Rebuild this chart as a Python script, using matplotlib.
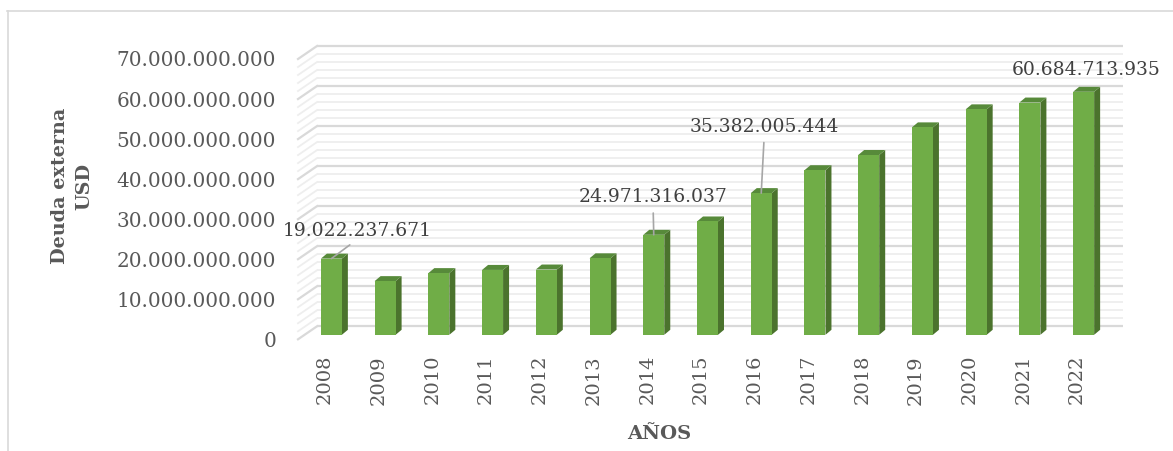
import matplotlib
matplotlib.use("Agg")
import matplotlib.pyplot as plt
from matplotlib.patches import Polygon
from matplotlib.lines import Line2D

# ---------------- data ----------------
years = ["2008", "2009", "2010", "2011", "2012", "2013", "2014", "2015",
         "2016", "2017", "2018", "2019", "2020", "2021", "2022"]
debt = [19022237671, 13.4e9, 15.4e9, 16.2e9, 16.3e9, 19.1e9, 24971316037,
        28.3e9, 35382005444, 41.1e9, 44.9e9, 51.8e9, 56.3e9, 58.0e9,
        60684713935]
y_ticks = [0, 10e9, 20e9, 30e9, 40e9, 50e9, 60e9, 70e9]
y_tick_labels = ["0", "10.000.000.000", "20.000.000.000", "30.000.000.000",
                 "40.000.000.000", "50.000.000.000", "60.000.000.000",
                 "70.000.000.000"]
labelled = {0: "19.022.237.671", 6: "24.971.316.037",
            8: "35.382.005.444", 14: "60.684.713.935"}
y_title = "Deuda externa\nUSD"
x_title = "AÑOS"

# ---------------- figure ----------------
W, H = 1173, 451
fig = plt.figure(figsize=(W / 100, H / 100), dpi=100)
fig.patch.set_facecolor("white")

FONT = "DejaVu Serif"
TXT = "#595959"

# axes = front plane of the bars
ax_l, ax_r = 304.5, 1110.5
ax_b, ax_t = 334.8, 334.8 - 280.3
ax = fig.add_axes([ax_l / W, 1 - ax_b / H, (ax_r - ax_l) / W, (ax_b - ax_t) / H])
ax.set_xlim(-0.5, 14.5)
ax.set_ylim(0, 70e9)
ax.axis("off")

px_x = (ax_r - ax_l) / 15.0
px_y = (ax_b - ax_t) / 70e9


def dxd(p):
    return p / px_x


def dyd(p):
    return p / px_y


# offsets (display pixels, y up) relative to bar front plane
back = (12.5, 8.5)
front = (-6.5, -4.5)

# gridlines: back wall + side wall
grid_vals = [v * 1e9 for v in range(0, 71, 2)]
for g in grid_vals:
    major = abs(g % 10e9) < 1 or abs(g % 10e9 - 10e9) < 1
    col = "#d9d9d9" if major else "#eeeeee"
    lw = 1.6 if major else 1.3
    x0 = -0.5 + dxd(back[0])
    x1 = 14.5 + dxd(back[0])
    yb = g + dyd(back[1])
    ax.plot([x0, x1], [yb, yb], color=col, lw=lw, zorder=1, clip_on=False,
            solid_capstyle="butt")
    xf = -0.5 + dxd(front[0])
    yf = g + dyd(front[1])
    ax.plot([xf, x0], [yf, yb], color=col, lw=lw, zorder=1, clip_on=False)

# bars
bw = 21 / px_x
ddx = dxd(6)
ddy = dyd(5)
xs = list(range(len(years)))
ax.bar(xs, debt, width=bw, color="#70AD47", zorder=3, clip_on=False)
for i, v in zip(xs, debt):
    r = i + bw / 2
    l = i - bw / 2
    side = Polygon([(r, 0), (r + ddx, ddy), (r + ddx, v + ddy), (r, v)],
                   closed=True, facecolor="#4B732D", edgecolor="none",
                   zorder=2.5, clip_on=False)
    top = Polygon([(l, v), (r, v), (r + ddx, v + ddy), (l + ddx, v + ddy)],
                  closed=True, facecolor="#578A3A", edgecolor="none",
                  zorder=2.5, clip_on=False)
    ax.add_patch(side)
    ax.add_patch(top)

# y tick labels
for t, s in zip(y_ticks, y_tick_labels):
    ax.text(-0.5 + dxd(276 - 304.5), t + dyd(front[1] - 2), s,
            ha="right", va="center", fontsize=14.4, family=FONT, color=TXT,
            clip_on=False)

# x tick labels
for i, s in zip(xs, years):
    ax.text(i + dxd(front[0]), dyd(-(355 - 334.8)), s, rotation=90,
            ha="center", va="top", fontsize=14, family=FONT, color=TXT,
            clip_on=False)

# data labels
offsets = {0: (25.5, 28), 6: (-0.7, 37.7), 8: (3, 66.5), 14: (2.6, 22)}
for i, s in labelled.items():
    ox, oy = offsets[i]
    kw = {}
    if i != 14:
        kw["arrowprops"] = dict(arrowstyle="-", color="#a6a6a6", lw=1.2,
                                shrinkA=3, shrinkB=0, relpos=(0.5, 0.0))
    ax.annotate(s, xy=(i, debt[i]), xytext=(ox, oy),
                textcoords="offset pixels", ha="center", va="center",
                fontsize=13.5, family=FONT, color="#404040",
                annotation_clip=False, zorder=5, **kw)

# axis titles
fig.text(72 / W, 1 - 186 / H, y_title, rotation=90, ha="center", va="center",
         fontsize=13.8, fontweight="bold", family=FONT, color=TXT,
         multialignment="center", linespacing=1.45)
fig.text(659 / W, 1 - 434 / H, x_title, ha="center", va="center",
         fontsize=14, fontweight="bold", family=FONT, color=TXT)

# chart border
fig.add_artist(Line2D([7 / W, 1], [1 - 10.5 / H, 1 - 10.5 / H],
                      transform=fig.transFigure, color="#d9d9d9", lw=1.2))
fig.add_artist(Line2D([7.5 / W, 7.5 / W], [0, 1 - 10.5 / H],
                      transform=fig.transFigure, color="#d9d9d9", lw=1.2))

fig.savefig("out.png", dpi=100, facecolor="white")
